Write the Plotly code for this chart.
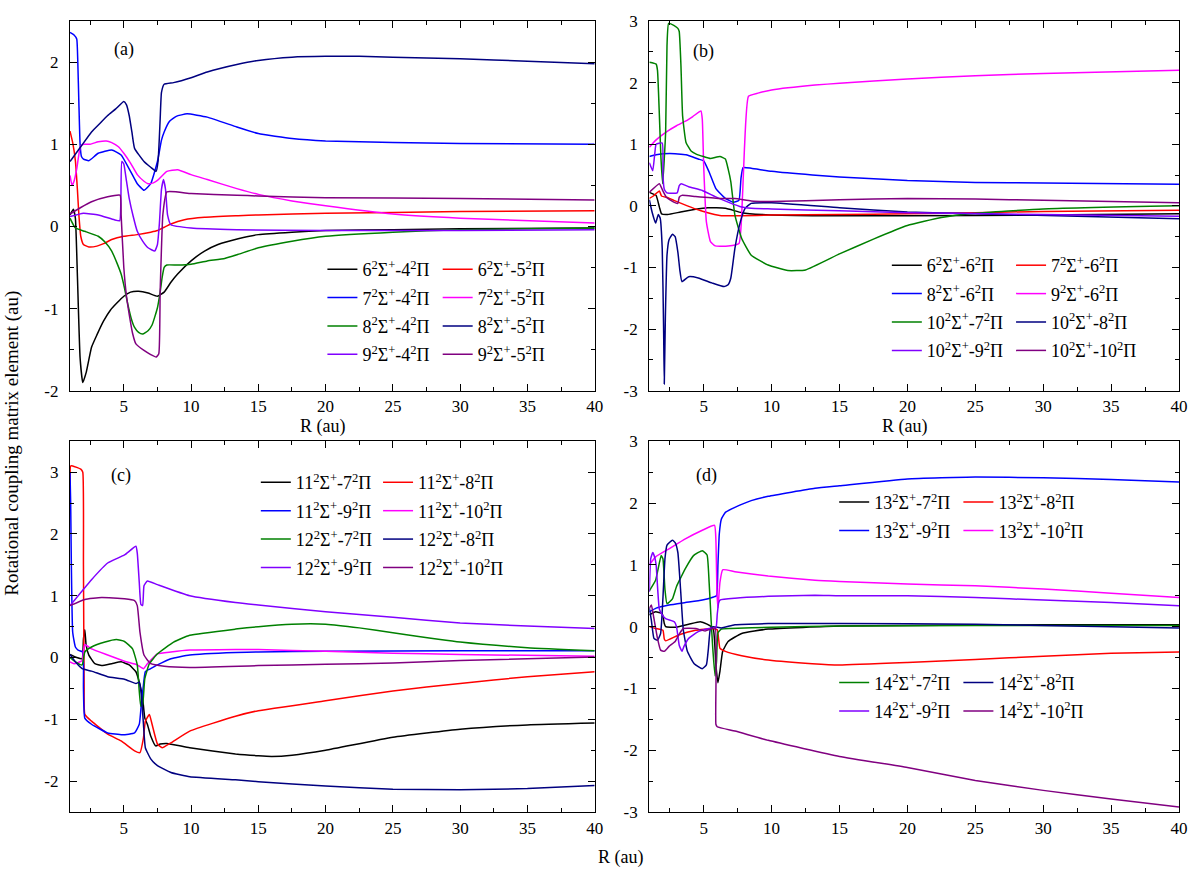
import plotly.graph_objects as go
from plotly.subplots import make_subplots

# ---------------- data ----------------
# panel (a)
a_6_4_R = [1.0, 1.25, 1.4, 1.55, 1.75, 1.95, 2.2, 2.6, 3.0, 3.5, 4.0, 4.5, 5.0, 5.5, 6.1, 6.8, 7.5, 8.0, 8.5, 9.0, 10, 11, 12, 13.5, 15, 17.5, 20, 25, 30, 40]
a_6_4_y = [0.14, 0.21, 0.1, -0.6, -1.6, -1.9, -1.78, -1.47, -1.32, -1.15, -1.02, -0.93, -0.85, -0.8, -0.79, -0.81, -0.85, -0.8, -0.68, -0.58, -0.42, -0.3, -0.22, -0.15, -0.1, -0.07, -0.05, -0.04, -0.03, -0.02]
a_6_5_R = [1.0, 1.2, 1.4, 1.55, 1.66, 1.8, 2.0, 2.4, 3.0, 3.5, 4.1, 5.0, 6.0, 7.0, 7.5, 8.0, 8.5, 9.5, 11, 13.5, 15, 20, 30, 40]
a_6_5_y = [1.16, 1.02, 0.8, 0.45, 0.14, -0.12, -0.22, -0.25, -0.24, -0.21, -0.16, -0.12, -0.1, -0.07, -0.05, -0.01, 0.03, 0.08, 0.11, 0.13, 0.14, 0.16, 0.18, 0.19]
a_7_4_R = [1.0, 1.3, 1.5, 1.58, 1.66, 1.75, 1.85, 2.0, 2.4, 3.1, 4.1, 4.8, 5.5, 6.0, 6.5, 7.0, 7.5, 7.8, 8.0, 8.4, 8.9, 9.7, 11.2, 13.4, 15, 17.5, 20, 25, 30, 40]
a_7_4_y = [2.36, 2.33, 2.28, 2.0, 1.5, 1.0, 0.85, 0.82, 0.8, 0.89, 0.93, 0.87, 0.67, 0.52, 0.44, 0.52, 0.79, 1.05, 1.15, 1.28, 1.34, 1.37, 1.33, 1.21, 1.13, 1.07, 1.04, 1.02, 1.01, 1.0]
a_7_5_R = [1.0, 1.15, 1.3, 1.5, 1.77, 2.0, 2.5, 3.1, 3.7, 4.1, 4.6, 5.0, 5.5, 6.0, 6.5, 6.8, 7.2, 7.5, 8.2, 9.0, 10, 11.2, 13.4, 15, 17.5, 20, 25, 30, 40]
a_7_5_y = [0.62, 0.5, 0.55, 0.7, 0.97, 1.0, 1.0, 1.03, 1.04, 1.02, 0.97, 0.89, 0.77, 0.63, 0.55, 0.52, 0.53, 0.56, 0.67, 0.69, 0.63, 0.57, 0.46, 0.39, 0.31, 0.25, 0.15, 0.1, 0.04]
a_8_4_R = [1.0, 1.4, 2.1, 3.1, 3.6, 4.1, 4.5, 4.8, 5.05, 5.3, 5.55, 5.8, 6.1, 6.4, 6.8, 7.1, 7.5, 7.7, 7.85, 8.0, 8.2, 9.0, 10, 11.2, 12.5, 13.5, 15, 17.5, 20, 25, 30, 40]
a_8_4_y = [0.1, -0.02, -0.06, -0.12, -0.19, -0.3, -0.45, -0.58, -0.75, -0.95, -1.12, -1.23, -1.29, -1.31, -1.27, -1.2, -0.99, -0.8, -0.62, -0.5, -0.47, -0.47, -0.46, -0.42, -0.39, -0.34, -0.26, -0.18, -0.12, -0.07, -0.04, -0.02]
a_8_5_R = [1.0, 1.8, 2.6, 3.2, 3.8, 4.4, 5.0, 5.2, 5.4, 5.6, 5.8, 6.5, 7.0, 7.4, 7.55, 7.7, 7.8, 8.0, 8.7, 10, 11.2, 13.4, 15, 17.5, 20, 22.5, 25, 30, 35, 40]
a_8_5_y = [0.79, 0.97, 1.15, 1.25, 1.35, 1.43, 1.52, 1.48, 1.35, 1.15, 0.95, 0.79, 0.72, 0.67, 0.8, 1.3, 1.63, 1.73, 1.75, 1.81, 1.88, 1.97, 2.02, 2.06, 2.07, 2.07, 2.06, 2.04, 2.01, 1.98]
a_9_4_R = [1.0, 2.0, 3.1, 4.3, 4.7, 4.78, 4.85, 5.0, 5.2, 5.4, 5.7, 6.0, 6.4, 6.8, 7.3, 7.5, 7.65, 7.8, 7.95, 8.1, 8.25, 8.5, 10, 13.4, 20, 30, 40]
a_9_4_y = [0.12, 0.16, 0.14, 0.08, 0.07, 0.3, 0.79, 0.76, 0.55, 0.34, 0.12, -0.06, -0.18, -0.26, -0.3, -0.22, 0.05, 0.45, 0.57, 0.45, 0.14, 0.02, -0.02, -0.04, -0.05, -0.05, -0.04]
a_9_5_R = [1.0, 1.8, 2.6, 3.8, 4.72, 4.8, 5.0, 5.2, 5.4, 5.65, 5.9, 6.5, 7.0, 7.4, 7.6, 7.7, 7.8, 7.9, 8.2, 10, 13.4, 15, 20, 30, 40]
a_9_5_y = [0.15, 0.23, 0.3, 0.36, 0.38, 0.14, -0.5, -0.85, -1.07, -1.3, -1.43, -1.51, -1.56, -1.59, -1.55, -0.8, -0.26, 0.14, 0.42, 0.4, 0.38, 0.37, 0.35, 0.34, 0.32]

# panel (b)
b_6_6_R = [1.0, 1.3, 1.5, 1.74, 1.9, 2.35, 3.3, 4.3, 5.3, 6.6, 7.8, 9.3, 13, 20, 30, 40]
b_6_6_y = [0.22, 0.19, 0.17, -0.02, -0.13, -0.14, -0.1, -0.06, -0.03, -0.04, -0.11, -0.14, -0.16, -0.16, -0.15, -0.13]
b_7_6_R = [1.0, 1.3, 1.55, 1.74, 1.9, 2.4, 2.8, 3.8, 4.8, 5.8, 6.3, 7.8, 10, 15, 20, 25, 30, 40]
b_7_6_y = [0.12, 0.16, 0.21, 0.24, 0.16, 0.13, 0.09, 0.0, -0.08, -0.14, -0.16, -0.16, -0.15, -0.14, -0.13, -0.11, -0.09, -0.07]
b_8_6_R = [1.0, 1.5, 2.5, 3.7, 4.6, 5.0, 5.4, 5.9, 6.6, 7.2, 7.6, 7.75, 7.9, 8.5, 10, 13, 15, 20, 25, 30, 40]
b_8_6_y = [0.8, 0.83, 0.85, 0.83, 0.76, 0.73, 0.55, 0.28, 0.12, 0.06, 0.09, 0.45, 0.62, 0.61, 0.56, 0.5, 0.47, 0.41, 0.38, 0.37, 0.35]
b_9_6_R = [1.0, 1.5, 2.4, 3.0, 3.7, 4.2, 4.8, 4.9, 5.0, 5.2, 5.5, 5.85, 6.8, 7.6, 7.8, 8.0, 8.3, 9.0, 10, 13.2, 15, 20, 25, 30, 40]
b_9_6_y = [0.95, 1.07, 1.22, 1.3, 1.38, 1.45, 1.54, 1.4, 0.66, -0.26, -0.58, -0.65, -0.65, -0.61, -0.15, 0.92, 1.78, 1.83, 1.88, 1.96, 1.99, 2.06, 2.11, 2.15, 2.2]
b_10_7_R = [1.0, 1.5, 1.6, 1.74, 1.85, 1.98, 2.2, 2.3, 2.42, 2.8, 3.1, 3.2, 3.33, 3.45, 3.7, 4.07, 4.45, 5.0, 5.5, 6.2, 6.6, 6.8, 7.0, 7.3, 7.8, 8.5, 9.75, 11.2, 12.5, 15, 17.5, 20, 22.5, 25, 30, 40]
b_10_7_y = [2.33, 2.3, 2.2, 1.46, 0.8, 0.36, 1.2, 2.6, 2.96, 2.93, 2.88, 2.83, 2.26, 1.46, 1.03, 0.89, 0.84, 0.8, 0.77, 0.8, 0.76, 0.6, 0.39, -0.15, -0.53, -0.8, -0.96, -1.05, -1.04, -0.78, -0.54, -0.32, -0.19, -0.12, -0.05, 0.0]
b_10_8_R = [1.0, 1.2, 1.46, 1.66, 1.8, 1.95, 2.05, 2.1, 2.18, 2.3, 2.45, 2.7, 2.9, 3.1, 3.25, 3.4, 3.9, 4.6, 5.6, 6.5, 6.8, 7.0, 7.3, 7.7, 8.05, 8.5, 10, 15, 20, 25, 40]
b_10_8_y = [0.1, -0.1, -0.28, -0.14, -0.2, -0.7, -2.0, -2.89, -1.8, -0.8, -0.55, -0.46, -0.5, -0.75, -1.05, -1.23, -1.15, -1.17, -1.25, -1.31, -1.28, -1.17, -0.69, -0.26, -0.04, 0.04, 0.05, -0.03, -0.1, -0.13, -0.21]
b_10_9_R = [1.0, 1.25, 1.4, 1.5, 1.95, 2.0, 2.1, 2.3, 3.05, 3.2, 3.35, 3.9, 4.9, 5.85, 6.8, 7.8, 8.5, 10, 15, 20, 30, 40]
b_10_9_y = [0.7, 0.57, 0.85, 1.0, 1.02, 0.5, 0.27, 0.21, 0.21, 0.33, 0.36, 0.31, 0.25, 0.15, 0.06, -0.02, -0.04, -0.05, -0.08, -0.11, -0.14, -0.17]
b_10_10_R = [1.0, 1.74, 1.98, 2.25, 2.8, 3.1, 3.2, 3.4, 4.4, 6.1, 7.3, 8.5, 10, 15, 20, 25, 30, 40]
b_10_10_y = [0.22, 0.36, 0.25, 0.14, 0.06, 0.04, 0.14, 0.17, 0.15, 0.12, 0.12, 0.08, 0.07, 0.1, 0.12, 0.11, 0.09, 0.05]

# panel (c)
c_11_7_R = [1.0, 1.5, 1.9, 2.0, 2.1, 2.2, 2.4, 2.85, 3.35, 4.1, 4.8, 5.4, 5.9, 6.2, 6.4, 6.56, 6.75, 7.0, 7.37, 7.7, 8.2, 9.9, 13.3, 15, 16, 17.5, 20, 25, 30, 35, 40]
c_11_7_y = [0.05, 0.0, -0.02, 0.3, 0.45, 0.2, 0.04, -0.1, -0.13, -0.1, -0.07, -0.12, -0.23, -0.44, -0.66, -0.98, -1.08, -1.27, -1.43, -1.4, -1.39, -1.46, -1.56, -1.59, -1.6, -1.58, -1.5, -1.29, -1.16, -1.09, -1.06]
c_11_8_R = [1.0, 1.05, 1.2, 1.8, 1.95, 2.0, 2.05, 2.1, 2.6, 3.8, 4.8, 5.8, 6.2, 6.46, 6.6, 6.9, 7.1, 7.5, 7.85, 8.5, 9.9, 13.3, 15, 20, 25, 30, 35, 40]
c_11_8_y = [2.8, 3.1, 3.1, 3.05, 3.0, 1.5, -0.5, -0.92, -1.03, -1.24, -1.35, -1.51, -1.54, -1.3, -1.03, -0.92, -1.08, -1.4, -1.46, -1.38, -1.19, -0.95, -0.86, -0.7, -0.54, -0.42, -0.31, -0.23]
c_11_9_R = [1.0, 1.05, 1.1, 1.2, 1.4, 1.6, 1.95, 2.0, 2.1, 2.6, 3.8, 4.9, 5.8, 6.15, 6.3, 6.46, 6.6, 7.0, 7.5, 8.5, 9.9, 13.3, 15, 20, 30, 40]
c_11_9_y = [3.0, 2.5, 1.5, 0.41, 0.17, 0.12, 0.09, -0.5, -0.98, -1.08, -1.22, -1.25, -1.22, -1.08, -0.76, -0.44, -0.23, -0.18, -0.12, -0.02, 0.04, 0.08, 0.09, 0.1, 0.11, 0.11]
c_11_10_R = [1.0, 1.3, 1.9, 2.0, 2.1, 2.6, 3.8, 5.05, 6.0, 6.46, 6.75, 7.5, 8.5, 9.9, 13.3, 15, 20, 25, 30, 40]
c_11_10_y = [-0.07, -0.1, -0.05, 0.1, 0.21, 0.14, 0.04, -0.06, -0.12, -0.18, -0.1, 0.06, 0.09, 0.12, 0.13, 0.13, 0.1, 0.07, 0.05, 0.02]
c_12_7_R = [1.0, 1.4, 1.9, 2.1, 2.6, 3.6, 4.45, 5.05, 5.65, 6.0, 6.15, 6.27, 6.4, 6.56, 6.9, 7.5, 8.7, 9.9, 13.3, 15, 17.5, 20, 22.5, 25, 30, 35, 40]
c_12_7_y = [0.0, -0.07, -0.12, 0.09, 0.17, 0.25, 0.29, 0.26, 0.14, -0.12, -0.55, -0.79, -0.76, -0.34, -0.1, 0.06, 0.25, 0.36, 0.46, 0.5, 0.54, 0.54, 0.48, 0.4, 0.25, 0.16, 0.11]
c_12_8_R = [1.0, 1.4, 1.9, 2.6, 3.8, 5.05, 5.9, 6.15, 6.3, 6.46, 6.6, 7.0, 7.5, 8.5, 9.9, 13.3, 15, 20, 25, 30, 35, 40]
c_12_8_y = [0.05, -0.07, -0.18, -0.22, -0.31, -0.35, -0.42, -0.4, -0.6, -1.08, -1.46, -1.64, -1.75, -1.86, -1.93, -1.98, -2.01, -2.08, -2.13, -2.14, -2.12, -2.07]
c_12_9_R = [1.0, 2.6, 3.8, 5.05, 5.9, 6.0, 6.15, 6.27, 6.4, 6.5, 6.75, 7.5, 9.9, 13.3, 15, 20, 25, 30, 35, 40]
c_12_9_y = [0.84, 1.26, 1.53, 1.66, 1.8, 1.69, 1.21, 0.86, 0.84, 1.16, 1.24, 1.18, 1.0, 0.89, 0.85, 0.74, 0.65, 0.56, 0.51, 0.47]
c_12_10_R = [1.0, 2.1, 3.35, 5.05, 5.8, 6.0, 6.2, 6.5, 7.0, 8.0, 9.9, 15, 20, 25, 30, 40]
c_12_10_y = [0.84, 0.94, 0.97, 0.95, 0.92, 0.84, 0.41, 0.04, -0.1, -0.14, -0.16, -0.13, -0.11, -0.09, -0.05, 0.01]

# panel (d)
d_13_7_R = [1.0, 1.46, 1.95, 2.1, 2.2, 2.9, 3.9, 4.75, 5.25, 5.7, 5.9, 6.05, 6.2, 6.4, 6.8, 7.8, 9.75, 15, 20, 30, 40]
d_13_7_y = [0.19, 0.24, 0.21, 0.05, 0.0, -0.01, 0.04, 0.08, 0.04, -0.03, -0.62, -0.91, -0.72, -0.4, -0.24, -0.11, -0.04, 0.01, 0.02, 0.03, 0.03]
d_13_8_R = [1.0, 1.46, 2.0, 2.1, 2.2, 3.2, 4.4, 5.6, 6.0, 6.2, 6.6, 7.8, 9.75, 13, 15, 20, 25, 30, 35, 40]
d_13_8_y = [0.0, -0.03, -0.06, -0.2, -0.23, -0.13, -0.06, -0.03, -0.05, -0.35, -0.4, -0.47, -0.54, -0.6, -0.62, -0.58, -0.53, -0.48, -0.43, -0.41]
d_13_9_R = [1.0, 1.5, 2.45, 3.65, 4.9, 5.73, 5.95, 6.05, 6.15, 6.3, 6.6, 7.3, 8.5, 9.75, 13.2, 15, 20, 25, 30, 35, 40]
d_13_9_y = [0.24, 0.3, 0.35, 0.39, 0.43, 0.48, 0.5, 1.0, 1.5, 1.74, 1.85, 1.93, 2.04, 2.11, 2.24, 2.28, 2.39, 2.42, 2.41, 2.38, 2.34]
d_13_10_R = [1.0, 1.46, 2.45, 3.65, 4.9, 5.8, 5.9, 5.98, 6.05, 6.2, 6.4, 7.3, 9.75, 13.2, 15, 20, 25, 30, 35, 40]
d_13_10_y = [1.0, 1.13, 1.26, 1.42, 1.56, 1.64, 1.4, 0.56, 0.3, 0.72, 0.92, 0.89, 0.82, 0.75, 0.73, 0.69, 0.66, 0.61, 0.54, 0.47]
d_14_7_R = [1.0, 1.46, 1.87, 2.0, 2.15, 2.3, 2.7, 3.0, 3.33, 3.65, 4.25, 4.9, 5.25, 5.4, 5.55, 5.67, 5.84, 5.95, 6.05, 6.3, 7.0, 10, 15, 25, 40]
d_14_7_y = [0.58, 0.75, 1.15, 1.1, 0.6, 0.37, 0.45, 0.65, 0.8, 0.94, 1.15, 1.23, 1.16, 0.72, 0.1, -0.35, -0.8, -0.55, -0.1, -0.04, -0.03, -0.01, 0.01, 0.02, 0.02]
d_14_8_R = [1.0, 1.15, 1.34, 1.6, 1.83, 2.0, 2.15, 2.3, 2.7, 2.9, 3.1, 3.3, 3.5, 3.8, 4.3, 4.9, 5.2, 5.35, 5.5, 5.7, 6.3, 7.3, 9.75, 15, 25, 40]
d_14_8_y = [0.3, 0.1, -0.19, -0.22, -0.11, 0.46, 1.1, 1.32, 1.4, 1.36, 1.2, 0.6, -0.05, -0.4, -0.6, -0.68, -0.62, -0.35, -0.03, 0.0, -0.02, 0.03, 0.05, 0.05, 0.04, -0.02]
d_14_9_R = [1.0, 1.1, 1.25, 1.4, 1.5, 1.73, 1.95, 2.2, 2.84, 3.0, 3.2, 3.4, 3.55, 3.9, 4.6, 5.4, 5.9, 6.0, 6.1, 6.2, 7.3, 9.75, 13.2, 15, 20, 25, 30, 35, 40]
d_14_9_y = [0.56, 1.1, 1.2, 1.12, 1.0, 0.29, 0.19, 0.13, 0.08, 0.0, -0.3, -0.4, -0.32, -0.19, -0.08, -0.03, -0.02, 0.2, 0.38, 0.43, 0.46, 0.49, 0.51, 0.5, 0.5, 0.47, 0.43, 0.39, 0.34]
d_14_10_R = [1.0, 1.15, 1.34, 1.6, 1.83, 2.1, 2.45, 2.9, 3.2, 3.5, 4.4, 5.1, 5.5, 5.85, 5.9, 6.0, 7.3, 9.75, 15, 20, 25, 30, 35, 40]
d_14_10_y = [0.3, 0.35, 0.13, -0.19, -0.38, -0.4, -0.32, -0.24, -0.12, -0.03, -0.03, -0.07, -0.04, -0.02, -1.58, -1.62, -1.69, -1.84, -2.1, -2.28, -2.49, -2.65, -2.79, -2.92]

# tick labels (hyphen minus, as in the original)
y_ticks_a = [-2, -1, 0, 1, 2]
y_ticks_b = [-3, -2, -1, 0, 1, 2, 3]
y_ticks_c = [-2, -1, 0, 1, 2, 3]
y_ticks_d = [-3, -2, -1, 0, 1, 2, 3]
x_ticks = [5, 10, 15, 20, 25, 30, 35, 40]

colors = ["#000000", "#ff0000", "#0000ff", "#ff00ff", "#008000", "#000080", "#8000ff", "#800080"]


def lbl(n, m):
    return f"{n}<sup>2</sup>Σ<sup>+</sup>-{m}<sup>2</sup>Π"


FONT = "Liberation Serif, Times New Roman, Times, serif"

fig = make_subplots(rows=2, cols=2)

panels = [
    (1, 1, [(a_6_4_R, a_6_4_y, 6, 4), (a_6_5_R, a_6_5_y, 6, 5), (a_7_4_R, a_7_4_y, 7, 4), (a_7_5_R, a_7_5_y, 7, 5),
            (a_8_4_R, a_8_4_y, 8, 4), (a_8_5_R, a_8_5_y, 8, 5), (a_9_4_R, a_9_4_y, 9, 4), (a_9_5_R, a_9_5_y, 9, 5)],
     ["legend", "legend2"] * 4),
    (1, 2, [(b_6_6_R, b_6_6_y, 6, 6), (b_7_6_R, b_7_6_y, 7, 6), (b_8_6_R, b_8_6_y, 8, 6), (b_9_6_R, b_9_6_y, 9, 6),
            (b_10_7_R, b_10_7_y, 10, 7), (b_10_8_R, b_10_8_y, 10, 8), (b_10_9_R, b_10_9_y, 10, 9), (b_10_10_R, b_10_10_y, 10, 10)],
     ["legend3", "legend4"] * 4),
    (2, 1, [(c_11_7_R, c_11_7_y, 11, 7), (c_11_8_R, c_11_8_y, 11, 8), (c_11_9_R, c_11_9_y, 11, 9), (c_11_10_R, c_11_10_y, 11, 10),
            (c_12_7_R, c_12_7_y, 12, 7), (c_12_8_R, c_12_8_y, 12, 8), (c_12_9_R, c_12_9_y, 12, 9), (c_12_10_R, c_12_10_y, 12, 10)],
     ["legend5", "legend6"] * 4),
    (2, 2, [(d_13_7_R, d_13_7_y, 13, 7), (d_13_8_R, d_13_8_y, 13, 8), (d_13_9_R, d_13_9_y, 13, 9), (d_13_10_R, d_13_10_y, 13, 10),
            (d_14_7_R, d_14_7_y, 14, 7), (d_14_8_R, d_14_8_y, 14, 8), (d_14_9_R, d_14_9_y, 14, 9), (d_14_10_R, d_14_10_y, 14, 10)],
     ["legend7", "legend8"] * 2 + ["legend9", "legend10"] * 2),
]

for row, col, series, legs in panels:
    for i, (R, y, n, m) in enumerate(series):
        fig.add_trace(go.Scatter(x=R, y=y, mode="lines", name=lbl(n, m),
                                 line=dict(color=colors[i], width=1.5, shape="spline", smoothing=0.4),
                                 legend=legs[i], legendgroup=f"p{row}{col}_{i}"), row=row, col=col)

# plot area in window pixels (body margin is removed below, so page = figure pixels)
FW, FH = 1200, 874
P_L, P_R, P_T, P_B = 70, 1186, 14, 812


def px(x):
    return (x - P_L) / (P_R - P_L)


def py(y):
    return (P_B - y) / (P_B - P_T)


axis_style = dict(showline=True, linecolor="black", linewidth=1.3, mirror="ticks",
                  ticks="inside", ticklen=7, tickwidth=1.3, tickcolor="black",
                  showgrid=False, zeroline=False,
                  tickfont=dict(family=FONT, size=17, color="black"))

x_dom = [[0, px(598)], [px(653), 1]]
y_dom = [[py(387), 1], [0, py(438)]]
y_ranges = [[-2, 2.5], [-3, 3], [-2.5, 3.5], [-3, 3]]
y_ticks = [y_ticks_a, y_ticks_b, y_ticks_c, y_ticks_d]

for k, (row, col) in enumerate([(1, 1), (1, 2), (2, 1), (2, 2)]):
    fig.update_xaxes(axis_style, range=[1, 40], domain=x_dom[col - 1],
                     tickvals=x_ticks, ticktext=[str(v) for v in x_ticks], ticklabelstandoff=0,
                     minor=dict(ticks="inside", ticklen=4, tickwidth=1.3, tickcolor="black", dtick=2.5, tick0=0),
                     row=row, col=col)
    fig.update_yaxes(axis_style, range=y_ranges[k], domain=y_dom[row - 1],
                     tickvals=y_ticks[k], ticktext=[str(v) for v in y_ticks[k]], ticklabelstandoff=7,
                     minor=dict(ticks="inside", ticklen=4, tickwidth=1.3, tickcolor="black", dtick=0.5, tick0=0),
                     row=row, col=col)

leg_font = dict(family=FONT, size=18, color="black")


def legend_box(x, y):
    return dict(x=px(x), y=py(y), xanchor="left", yanchor="top", bgcolor="rgba(0,0,0,0)",
                font=leg_font, itemwidth=30, traceorder="grouped", tracegroupgap=2, orientation="v")


fig.update_layout(
    width=FW, height=FH,
    margin=dict(l=P_L, r=FW - P_R, t=P_T, b=FH - P_B),
    plot_bgcolor="white", paper_bgcolor="white",
    legend=legend_box(324, 246),
    legend2=legend_box(440, 246),
    legend3=legend_box(892, 242),
    legend4=legend_box(1017, 242),
    legend5=legend_box(257, 461),
    legend6=legend_box(380, 461),
    legend7=legend_box(839, 481),
    legend8=legend_box(964, 481),
    legend9=legend_box(839, 663),
    legend10=legend_box(964, 663),
)

ann_font = dict(family=FONT, size=18, color="black")
mid = dict(showarrow=False, xanchor="center", yanchor="middle", font=ann_font)
annotations = [
    dict(text="(a)", xref="x", yref="y", x=5.0, y=2.15, **mid),
    dict(text="(b)", xref="x2", yref="y2", x=5.0, y=2.5, **mid),
    dict(text="(c)", xref="x3", yref="y3", x=4.8, y=2.94, **mid),
    dict(text="(d)", xref="x4", yref="y4", x=5.2, y=2.44, **mid),
    dict(text="R (au)", xref="x", yref="paper", x=19.8, y=py(423), **mid),
    dict(text="R (au)", xref="x2", yref="paper", x=19.8, y=py(423), **mid),
    dict(text="R (au)", xref="paper", yref="paper", x=px(624), y=py(858), **mid),
    dict(text="Rotational coupling matrix element (au)", xref="paper", yref="paper",
         x=px(12), y=py(440), textangle=-90, showarrow=False, xanchor="center", yanchor="middle",
         font=dict(family=FONT, size=19, color="black")),
]
fig.update_layout(annotations=annotations)

fig.write_html("out.html", config={"displayModeBar": False},
               post_script="document.body.style.margin='0';")
